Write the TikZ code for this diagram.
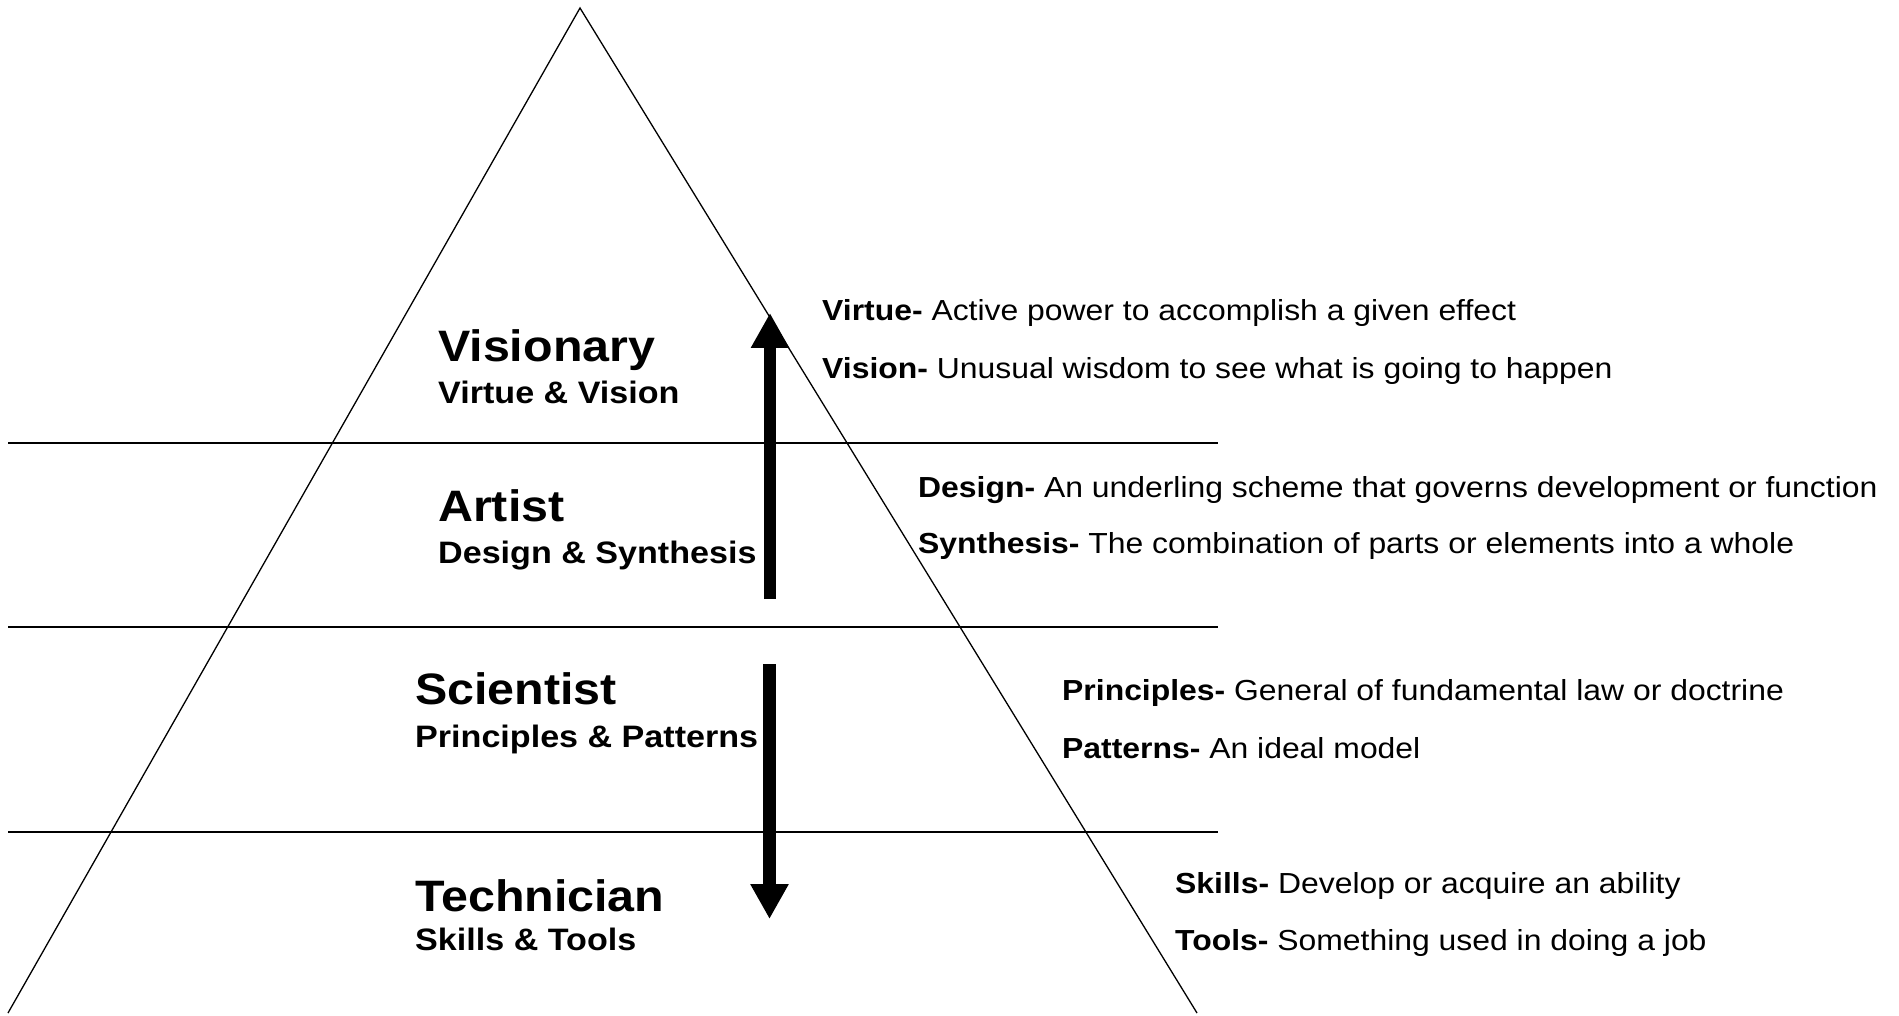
\documentclass[tikz,border=0pt]{standalone}
\usepackage{fontspec}
\usepackage{graphicx}
\setmainfont{Liberation Sans}
\usetikzlibrary{arrows.meta}
\tikzset{
  edge/.style={line width=1.3pt, black},
  band/.style={line width=1.4pt, black},
  bigarrow/.style={line width=12.5pt, -{Triangle[width=36pt,length=35pt]}},
  mainlab/.style={anchor=base west, inner sep=0pt, font=\fontsize{44}{50}\selectfont\bfseries},
  sublab/.style={anchor=base west, inner sep=0pt, font=\fontsize{31}{36}\selectfont\bfseries},
  deflab/.style={anchor=base west, inner sep=0pt, font=\fontsize{29}{34}\selectfont},
}
\newcommand{\sx}[1]{\scalebox{1.1}[1]{#1}}
\begin{document}
\begin{tikzpicture}[x=1pt,y=-1pt]
\useasboundingbox (0,0) rectangle (1899,1016);
% pyramid
\coordinate (apex) at (580,8);
\coordinate (bl) at (8,1013);
\coordinate (br) at (1197,1013);
\draw[edge] (bl) -- (apex) -- (br);
% bands
\coordinate (l1a) at (8,443);  \coordinate (l1b) at (1218,443);
\coordinate (l2a) at (8,627);  \coordinate (l2b) at (1218,627);
\coordinate (l3a) at (8,832);  \coordinate (l3b) at (1218,832);
\draw[band] (l1a) -- (l1b);
\draw[band] (l2a) -- (l2b);
\draw[band] (l3a) -- (l3b);
% arrows
\coordinate (upS) at (770,599);
\coordinate (upE) at (770,313);
\coordinate (dnS) at (769.5,664);
\coordinate (dnE) at (769.5,919);
\draw[bigarrow] (upS) -- (upE);
\draw[bigarrow] (dnS) -- (dnE);
% left labels
\node[mainlab] (vis) at (438,362) {\sx{Visionary}};
\node[sublab] (visS) at (438,403) {\sx{Virtue \& Vision}};
\node[mainlab] (art) at (438,521) {\sx{Artist}};
\node[sublab] (artS) at (438,563) {\sx{Design \& Synthesis}};
\node[mainlab] (sci) at (415,704) {\sx{Scientist}};
\node[sublab] (sciS) at (415,747) {\sx{Principles \& Patterns}};
\node[mainlab] (tec) at (415,911) {\sx{Technician}};
\node[sublab] (tecS) at (415,950) {\sx{Skills \& Tools}};
% definitions
\node[deflab] (d1) at (822,321) {\sx{\textbf{Virtue-} Active power to accomplish a given effect}};
\node[deflab] (d2) at (822,378) {\sx{\textbf{Vision-} Unusual wisdom to see what is going to happen}};
\node[deflab] (d3) at (918,497) {\sx{\textbf{Design-} An underling scheme that governs development or function}};
\node[deflab] (d4) at (918,553) {\sx{\textbf{Synthesis-} The combination of parts or elements into a whole}};
\node[deflab] (d5) at (1062,700) {\sx{\textbf{Principles-} General of fundamental law or doctrine}};
\node[deflab] (d6) at (1062,758) {\sx{\textbf{Patterns-} An ideal model}};
\node[deflab] (d7) at (1175,893) {\sx{\textbf{Skills-} Develop or acquire an ability}};
\node[deflab] (d8) at (1175,950) {\sx{\textbf{Tools-} Something used in doing a job}};
\end{tikzpicture}
\end{document}
